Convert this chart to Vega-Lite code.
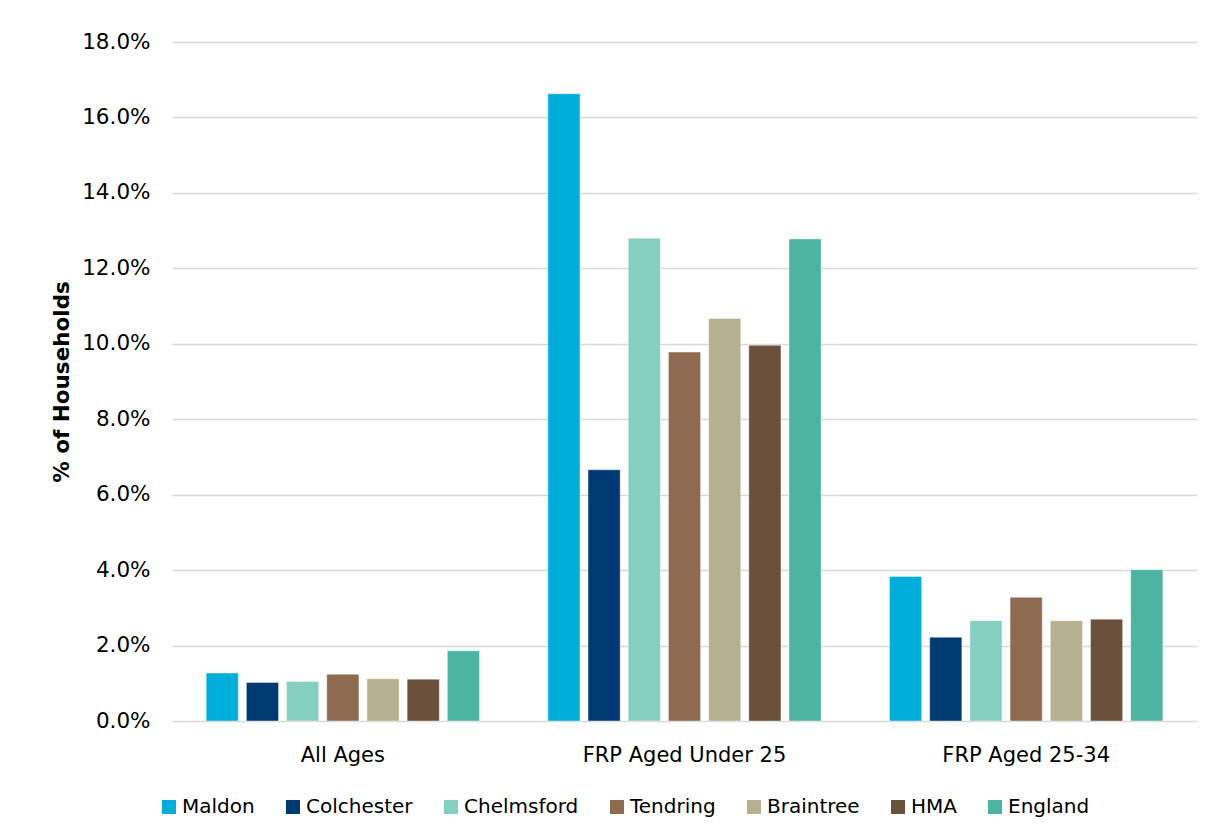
{
  "$schema": "https://vega.github.io/schema/vega-lite/v6.json",
  "width": 1025,
  "height": 679,
  "autosize": {"type": "none"},
  "padding": {"left": 172, "top": 42, "right": 17, "bottom": 117},
  "background": "#ffffff",
  "config": {
    "font": "DejaVu Sans",
    "view": {"stroke": null},
    "axis": {"labelColor": "#000000", "titleColor": "#000000"}
  },
  "data": {
    "values": [
      {"age": "All Ages", "area": "Maldon", "share": 0.0127},
      {"age": "All Ages", "area": "Colchester", "share": 0.0102},
      {"age": "All Ages", "area": "Chelmsford", "share": 0.0105},
      {"age": "All Ages", "area": "Tendring", "share": 0.0124},
      {"age": "All Ages", "area": "Braintree", "share": 0.0112},
      {"age": "All Ages", "area": "HMA", "share": 0.0111},
      {"age": "All Ages", "area": "England", "share": 0.0186},
      {"age": "FRP Aged Under 25", "area": "Maldon", "share": 0.1663},
      {"age": "FRP Aged Under 25", "area": "Colchester", "share": 0.0666},
      {"age": "FRP Aged Under 25", "area": "Chelmsford", "share": 0.1280},
      {"age": "FRP Aged Under 25", "area": "Tendring", "share": 0.0978},
      {"age": "FRP Aged Under 25", "area": "Braintree", "share": 0.1067},
      {"age": "FRP Aged Under 25", "area": "HMA", "share": 0.0996},
      {"age": "FRP Aged Under 25", "area": "England", "share": 0.1278},
      {"age": "FRP Aged 25-34", "area": "Maldon", "share": 0.0383},
      {"age": "FRP Aged 25-34", "area": "Colchester", "share": 0.0222},
      {"age": "FRP Aged 25-34", "area": "Chelmsford", "share": 0.0266},
      {"age": "FRP Aged 25-34", "area": "Tendring", "share": 0.0328},
      {"age": "FRP Aged 25-34", "area": "Braintree", "share": 0.0266},
      {"age": "FRP Aged 25-34", "area": "HMA", "share": 0.0270},
      {"age": "FRP Aged 25-34", "area": "England", "share": 0.0401}
    ]
  },
  "mark": {"type": "bar", "stroke": "#ffffff", "strokeWidth": 0.6, "strokeOpacity": 0.7},
  "encoding": {
    "x": {
      "field": "age",
      "type": "nominal",
      "sort": ["All Ages", "FRP Aged Under 25", "FRP Aged 25-34"],
      "scale": {"paddingInner": 0.2, "paddingOuter": 0.1},
      "axis": {
        "title": null,
        "labelAngle": 0,
        "labelFontSize": 21,
        "labelLimit": 0,
        "labelPadding": 23,
        "ticks": false,
        "domain": false
      }
    },
    "xOffset": {
      "field": "area",
      "type": "nominal",
      "sort": ["Maldon", "Colchester", "Chelmsford", "Tendring", "Braintree", "HMA", "England"],
      "scale": {"paddingInner": 0.2, "paddingOuter": 0.0}
    },
    "y": {
      "field": "share",
      "type": "quantitative",
      "scale": {"domain": [0, 0.18], "nice": false},
      "axis": {
        "title": "% of Households",
        "titleFontSize": 21.5,
        "titleFontWeight": "bold",
        "titlePadding": 8,
        "format": ".1%",
        "values": [0, 0.02, 0.04, 0.06, 0.08, 0.1, 0.12, 0.14, 0.16, 0.18],
        "labelFontSize": 21.5,
        "labelPadding": 22,
        "ticks": false,
        "domain": false,
        "gridColor": "#d9d9d9",
        "gridWidth": 1.3
      }
    },
    "color": {
      "field": "area",
      "type": "nominal",
      "sort": ["Maldon", "Colchester", "Chelmsford", "Tendring", "Braintree", "HMA", "England"],
      "scale": {
        "domain": ["Maldon", "Colchester", "Chelmsford", "Tendring", "Braintree", "HMA", "England"],
        "range": ["#00aedb", "#003a72", "#85cfc1", "#8e6b50", "#b5b190", "#6b513c", "#4bb5a2"]
      },
      "legend": {
        "title": null,
        "orient": "none",
        "direction": "horizontal",
        "legendX": -13,
        "legendY": 755,
        "symbolType": "square",
        "symbolSize": 196,
        "symbolStrokeWidth": 0,
        "labelFontSize": 20,
        "labelColor": "#000000",
        "labelOffset": 3,
        "columnPadding": 28
      }
    }
  }
}
